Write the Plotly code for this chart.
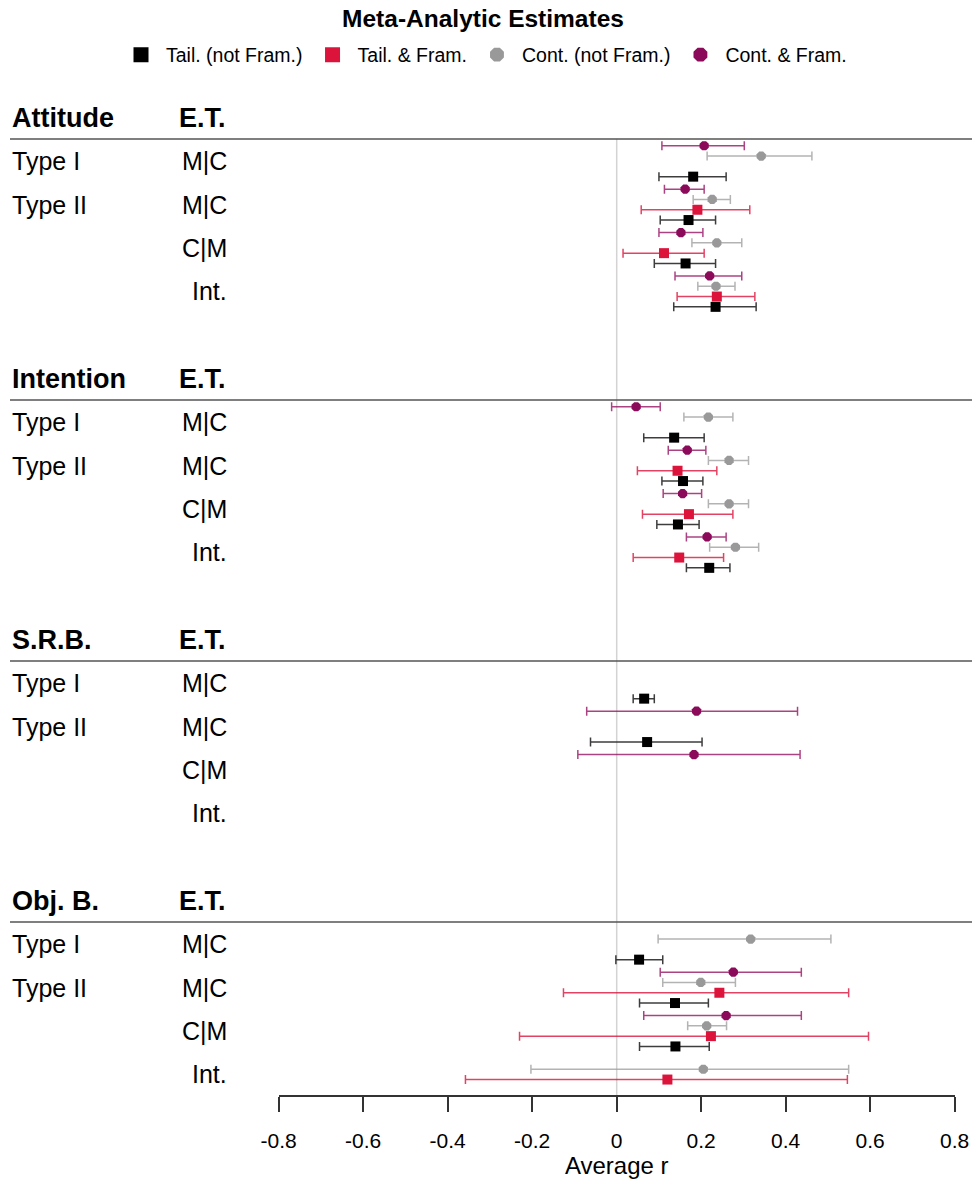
import plotly.graph_objects as go

# ---------------- data ----------------
sections = ["Attitude", "Intention", "S.R.B.", "Obj. B."]
type_labels = ["Type I", "Type II", "", ""]
et_labels = ["M|C", "M|C", "C|M", "Int."]
et_header = "E.T."

series_names = ["Tail. (not Fram.)", "Tail. & Fram.", "Cont. (not Fram.)", "Cont. & Fram."]

# each list: 4 sections x 4 rows (Type I M|C, Type II M|C, C|M, Int.)
tail_nf_est = [0.181, 0.170, 0.163, 0.234,  0.136, 0.157, 0.145, 0.219,  0.065, 0.072, None, None,  0.053, 0.138, 0.139, None]
tail_nf_lo  = [0.100, 0.103, 0.089, 0.135,  0.064, 0.107, 0.095, 0.165,  0.039, -0.062, None, None, -0.002, 0.054, 0.054, None]
tail_nf_hi  = [0.259, 0.234, 0.234, 0.330,  0.207, 0.204, 0.195, 0.268,  0.089, 0.202, None, None,  0.109, 0.217, 0.219, None]

tail_f_est = [None, 0.191, 0.112, 0.237,  None, 0.144, 0.171, 0.148,  None, None, None, None,  None, 0.243, 0.223, 0.120]
tail_f_lo  = [None, 0.058, 0.015, 0.143,  None, 0.049, 0.061, 0.039,  None, None, None, None,  None, -0.126, -0.230, -0.358]
tail_f_hi  = [None, 0.315, 0.207, 0.327,  None, 0.237, 0.275, 0.253,  None, None, None, None,  None, 0.549, 0.596, 0.546]

cont_nf_est = [0.342, 0.226, 0.237, 0.235,  0.217, 0.266, 0.266, 0.281,  None, None, None, None,  0.317, 0.199, 0.213, 0.205]
cont_nf_lo  = [0.214, 0.181, 0.178, 0.192,  0.159, 0.217, 0.217, 0.220,  None, None, None, None,  0.098, 0.109, 0.168, -0.203]
cont_nf_hi  = [0.462, 0.269, 0.296, 0.280,  0.275, 0.312, 0.312, 0.336,  None, None, None, None,  0.507, 0.281, 0.260, 0.549]

cont_f_est = [0.207, 0.162, 0.152, 0.220,  0.046, 0.167, 0.156, 0.214,  None, 0.189, 0.183, None,  None, 0.276, 0.259, None]
cont_f_lo  = [0.107, 0.113, 0.100, 0.138, -0.012, 0.122, 0.110, 0.165,  None, -0.071, -0.092, None, None, 0.103, 0.064, None]
cont_f_hi  = [0.302, 0.207, 0.204, 0.296,  0.103, 0.211, 0.201, 0.259,  None, 0.428, 0.434, None,  None, 0.437, 0.437, None]

x_tick_vals = [-0.8, -0.6, -0.4, -0.2, 0, 0.2, 0.4, 0.6, 0.8]
x_tick_text = ["-0.8", "-0.6", "-0.4", "-0.2", "0", "0.2", "0.4", "0.6", "0.8"]

# ---------------- layout / style ----------------
W, H = 972, 1184
FONT = "Arial, 'Liberation Sans', sans-serif"
SEC_LINE0 = 139.0
SEC_PITCH = 261.0
GROUP0 = 22.2
GROUP_PITCH = 43.4
SERIES_STEP = 10.3
AXIS_Y = 1096.0
X_LEFT_PX, X_RIGHT_PX = 278.7, 954.7

series_style = [
    dict(symbol="square", color="#000000", bar="rgba(40,40,40,0.9)", slot=1.5),
    dict(symbol="square", color="#DC143C", bar="rgba(220,20,60,0.8)", slot=0.5),
    dict(symbol="octagon", color="#999999", bar="rgba(160,160,160,0.8)", slot=-0.5),
    dict(symbol="octagon", color="#8B0A5A", bar="rgba(150,20,100,0.8)", slot=-1.5),
]
series_data = [
    (tail_nf_est, tail_nf_lo, tail_nf_hi),
    (tail_f_est, tail_f_lo, tail_f_hi),
    (cont_nf_est, cont_nf_lo, cont_nf_hi),
    (cont_f_est, cont_f_lo, cont_f_hi),
]


def row_center(s, g):
    return SEC_LINE0 + s * SEC_PITCH + GROUP0 + g * GROUP_PITCH


fig = go.Figure()

for name, sty, (est, lo, hi) in zip(series_names, series_style, series_data):
    xs, ys, ep, em = [], [], [], []
    for i, e in enumerate(est):
        if e is None:
            continue
        s, g = divmod(i, 4)
        xs.append(e)
        ys.append(row_center(s, g) + sty["slot"] * SERIES_STEP)
        ep.append(hi[i] - e)
        em.append(e - lo[i])
    fig.add_trace(go.Scatter(
        x=xs, y=ys, mode="markers", name=name, showlegend=False,
        marker=dict(symbol=sty["symbol"], size=10, color=sty["color"], line=dict(width=0)),
        error_x=dict(type="data", symmetric=False, array=ep, arrayminus=em,
                     color=sty["bar"], thickness=1.5, width=4.5),
    ))
    # legend entry with larger symbol
    fig.add_trace(go.Scatter(
        x=[None], y=[None], mode="markers", name=name, showlegend=True,
        marker=dict(symbol=sty["symbol"], size=15, color=sty["color"], line=dict(width=0)),
    ))

shapes = []
annotations = []
# zero reference line
shapes.append(dict(type="line", xref="x", yref="y", x0=0, x1=0, y0=SEC_LINE0, y1=AXIS_Y,
                   line=dict(color="#d3d3d3", width=1.5), layer="below"))
for s, sec in enumerate(sections):
    line_y = SEC_LINE0 + s * SEC_PITCH
    shapes.append(dict(type="line", xref="paper", yref="y", x0=10 / W, x1=1, y0=line_y, y1=line_y,
                       line=dict(color="#555555", width=1.5)))
    annotations.append(dict(text="<b>%s</b>" % sec, xref="paper", yref="y", x=10 / W, y=line_y - 21,
                            xanchor="left", yanchor="middle", showarrow=False,
                            font=dict(size=27, color="black", family=FONT)))
    annotations.append(dict(text="<b>%s</b>" % et_header, xref="paper", yref="y", x=228 / W, y=line_y - 21,
                            xanchor="right", yanchor="middle", showarrow=False,
                            font=dict(size=27, color="black", family=FONT)))
    for g in range(4):
        yc = row_center(s, g)
        if type_labels[g]:
            annotations.append(dict(text=type_labels[g], xref="paper", yref="y", x=10 / W, y=yc,
                                    xanchor="left", yanchor="middle", showarrow=False,
                                    font=dict(size=25, color="black", family=FONT)))
        annotations.append(dict(text=et_labels[g], xref="paper", yref="y", x=229 / W, y=yc,
                                xanchor="right", yanchor="middle", showarrow=False,
                                font=dict(size=25, color="black", family=FONT)))

fig.update_layout(
    template="none",
    width=W, height=H, autosize=False,
    margin=dict(l=0, r=0, t=0, b=0, pad=0, autoexpand=False),
    paper_bgcolor="white", plot_bgcolor="white",
    font=dict(family=FONT, color="black"),
    title=dict(text="<b>Meta-Analytic Estimates</b>", x=483 / W, xanchor="center",
               y=1 - 18 / H, yanchor="middle", font=dict(size=24.5, family=FONT, color="black")),
    legend=dict(orientation="h", x=484 / W, xanchor="center", y=1 - 55 / H, yanchor="middle",
                font=dict(size=19.5, family=FONT, color="black"), bgcolor="rgba(0,0,0,0)",
                itemsizing="trace", itemwidth=40),
    xaxis=dict(domain=[X_LEFT_PX / W, X_RIGHT_PX / W], range=[-0.8, 0.8],
               anchor="free", position=1 - AXIS_Y / H, automargin=False,
               tickvals=x_tick_vals, ticktext=x_tick_text,
               showline=True, linecolor="#333333", linewidth=1.5,
               ticks="outside", ticklen=15, tickwidth=1.5, tickcolor="#333333",
               ticklabelstandoff=11,
               tickfont=dict(size=21, family=FONT, color="black"),
               showgrid=False, zeroline=False,
               title=dict(text="Average r", font=dict(size=24, family=FONT, color="black"), standoff=4)),
    yaxis=dict(domain=[0, 1], range=[H, 0], visible=False, showgrid=False, zeroline=False,
               automargin=False),
    shapes=shapes, annotations=annotations,
)

fig.write_html("out.html")
